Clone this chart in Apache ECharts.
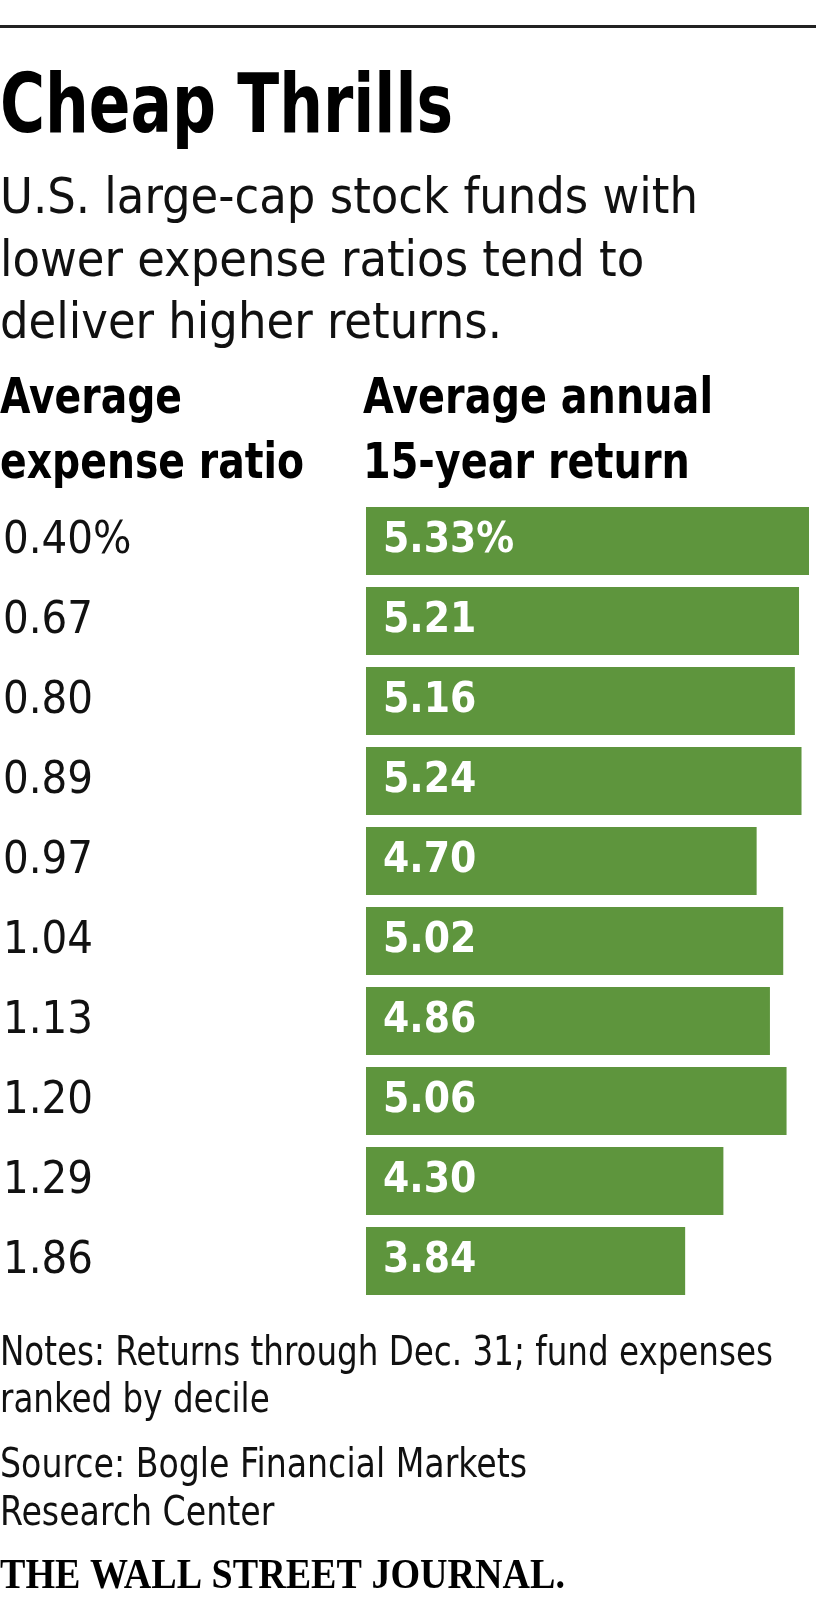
<!DOCTYPE html>
<html><head><meta charset="utf-8">
<script src="https://cdn.jsdelivr.net/npm/echarts@6/dist/echarts.min.js"></script>
<style>html,body{margin:0;padding:0;background:#fff}#c{width:816px;height:1600px}</style>
</head><body><div id="c"></div>
<script>
// ---- data ----
const categories = ['0.40%','0.67','0.80','0.89','0.97','1.04','1.13','1.20','1.29','1.86'];
const returns = [5.33,5.21,5.16,5.24,4.70,5.02,4.86,5.06,4.30,3.84];
const titleText = 'Cheap Thrills';
const subtitleLines = ['U.S. large-cap stock funds with','lower expense ratios tend to','deliver higher returns.'];
const leftHeaderLines = ['Average','expense ratio'];
const rightHeaderLines = ['Average annual','15-year return'];
const noteLines = ['Notes: Returns through Dec. 31; fund expenses','ranked by decile'];
const sourceLines = ['Source: Bogle Financial Markets','Research Center'];
const creditText = 'THE WALL STREET JOURNAL.';

// ---- font helpers ----
const mc = document.createElement('canvas').getContext('2d');
function hasFont(f){
  const s='abcdefghijklmnopqrstuvwxyzABCDEFGHIJKLMNOPQRSTUVWXYZ0123456789';
  mc.font='72px monospace'; const a=mc.measureText(s).width;
  mc.font='72px "'+f+'", monospace'; const b=mc.measureText(s).width;
  return Math.abs(a-b)>0.5;
}
function pick(list, fb){ for(const f of list){ if(hasFont(f)) return f; } return fb; }
const SANS = pick(['DejaVu Sans Condensed','Liberation Sans Narrow','Noto Sans','Open Sans','Roboto'],'sans-serif');
const SERIF = pick(['Liberation Serif','DejaVu Serif'],'serif');
function fontStr(size, weight, fam){ return weight+' '+size+'px "'+fam+'"'; }
function capRatio(weight, fam){ mc.font=fontStr(100,weight,fam); mc.textBaseline='alphabetic'; return mc.measureText('H').actualBoundingBoxAscent/100; }
function sizeForCap(cap, weight, fam){ return cap/capRatio(weight,fam); }
function midToBase(size, weight, fam){ mc.font=fontStr(size,weight,fam); mc.textBaseline='middle'; const d=mc.measureText('H').actualBoundingBoxDescent; mc.textBaseline='alphabetic'; return d; }
function textW(t,size,weight,fam){ mc.font=fontStr(size,weight,fam); mc.textBaseline='alphabetic'; return mc.measureText(t).width; }

function block(lines, o){
  const size = sizeForCap(o.cap, o.weight, o.fam);
  const d = midToBase(size, o.weight, o.fam);
  const lh = o.lineHeight || Math.round(size*1.2);
  const sx = o.targetWidth ? o.targetWidth / textW(lines[o.refLine||0], size, o.weight, o.fam) : 1;
  return {
    type:'text', x:o.x, y:o.baseline - d - lh/2, scaleX:sx, silent:true,
    style:{ text:lines.join('\n'), fontSize:size, fontWeight:o.weight, fontFamily:o.fam,
            fill:o.color||'#000', lineHeight:lh, align:'left', verticalAlign:'top' }
  };
}

// label sizes: compromise between reference cap height and reference width
const yLabelSize = (sizeForCap(35,'normal',SANS) + 120/textW('0.40%',1,'normal',SANS)) / 2;
const barLabelSize = (sizeForCap(34,'bold',SANS) + 117/textW('5.33%',1,'bold',SANS)) / 2;

const graphics = [
  {type:'rect', silent:true, shape:{x:0,y:25,width:816,height:3}, style:{fill:'#222'}},
  block([titleText], {x:0, baseline:132, cap:60, weight:'bold', fam:SANS, targetWidth:453, color:'#000'}),
  block(subtitleLines, {x:0, baseline:213, cap:36, weight:'normal', fam:SANS, lineHeight:62.5, targetWidth:698, color:'#111'}),
  block(leftHeaderLines, {x:0, baseline:413, cap:36, weight:'bold', fam:SANS, lineHeight:65, targetWidth:304, refLine:1, color:'#000'}),
  block(rightHeaderLines, {x:363, baseline:413, cap:36, weight:'bold', fam:SANS, lineHeight:65, targetWidth:350, refLine:0, color:'#000'}),
  block(noteLines, {x:0, baseline:1365, cap:30, weight:'normal', fam:SANS, lineHeight:47, targetWidth:773, color:'#111'}),
  block(sourceLines, {x:0, baseline:1477, cap:30, weight:'normal', fam:SANS, lineHeight:48, targetWidth:527, color:'#111'}),
  block([creditText], {x:0, baseline:1588, cap:27, weight:'bold', fam:SERIF, targetWidth:565, color:'#000'})
];

const chart = echarts.init(document.getElementById('c'), null, {renderer:'canvas'});
chart.setOption({
  animation:false,
  backgroundColor:'#fff',
  grid:{left:363, right:7, top:501, bottom:299, containLabel:false},
  xAxis:{type:'value', min:0, max:5.33, show:false},
  yAxis:{type:'category', data:categories, inverse:true,
    axisLine:{show:false}, axisTick:{show:false}, splitLine:{show:false},
    axisLabel:{align:'left', margin:363, color:'#111', fontSize:yLabelSize, fontWeight:'normal', fontFamily:SANS}
  },
  series:[{
    type:'bar', data:returns, barWidth:68,
    itemStyle:{color:'#5e953d'},
    label:{show:true, position:'insideLeft', distance:17, color:'#fff', fontSize:barLabelSize, fontWeight:'bold', fontFamily:SANS,
      formatter:p => p.value.toFixed(2) + (p.dataIndex===0 ? '%' : '')}
  }],
  graphic:graphics
});
</script>
</body></html>
